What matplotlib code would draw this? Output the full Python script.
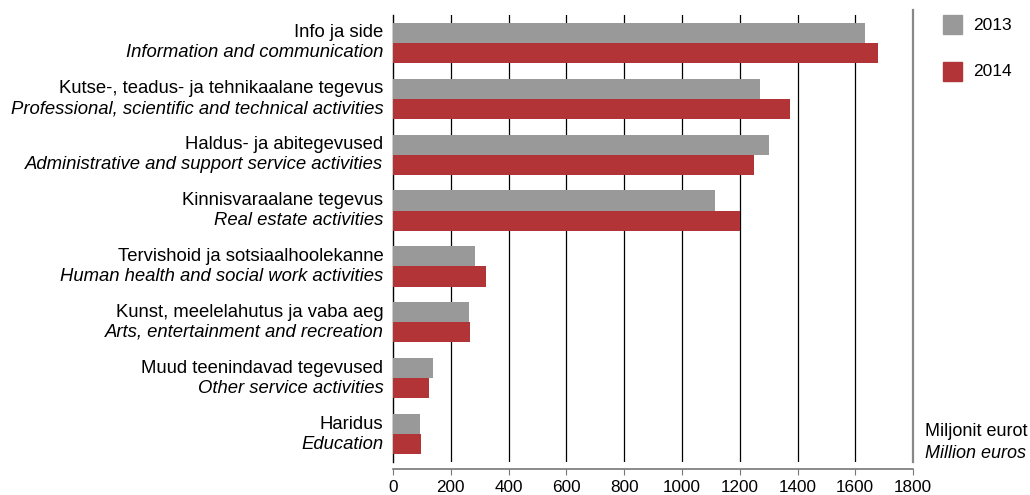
import numpy as np
import matplotlib.pyplot as plt
from matplotlib.patches import Rectangle

plt.rcParams['font.family'] = ['Liberation Sans', 'DejaVu Sans']

labels_et = ['Info ja side', 'Kutse-, teadus- ja tehnikaalane tegevus',
             'Haldus- ja abitegevused', 'Kinnisvaraalane tegevus',
             'Tervishoid ja sotsiaalhoolekanne', 'Kunst, meelelahutus ja vaba aeg',
             'Muud teenindavad tegevused', 'Haridus']
labels_en = ['Information and communication',
             'Professional, scientific and technical activities',
             'Administrative and support service activities',
             'Real estate activities',
             'Human health and social work activities',
             'Arts, entertainment and recreation',
             'Other service activities', 'Education']
v2013 = [1635, 1271, 1302, 1116, 283, 262, 138, 93]
v2014 = [1677, 1374, 1250, 1200, 321, 266, 124, 97]
years = ['2013', '2014']
colors = ['#999999', '#B33436']

fig = plt.figure(figsize=(10.3, 4.95), dpi=100)
ax = fig.add_axes([0.3816, 1 - 462 / 495, 0.5049, 447 / 495])

n = len(labels_et)
y = np.arange(n)
h = 0.36
ax.barh(y - h / 2, v2013, height=h, color=colors[0], zorder=3)
ax.barh(y + h / 2, v2014, height=h, color=colors[1], zorder=3)

ax.set_xlim(0, 1800)
ax.set_ylim(n - 0.5, -0.5)
ax.set_xticks(np.arange(0, 1801, 200))
ax.tick_params(axis='x', labelsize=12.3, length=4, color='#777777', pad=4)
ax.set_yticks([])
for xv in range(200, 1800, 200):
    ax.axvline(xv, color='black', lw=0.9, zorder=1)

for s in ['top', 'right']:
    ax.spines[s].set_visible(False)
ax.spines['left'].set_color('black')
ax.spines['left'].set_linewidth(1.0)
ax.spines['bottom'].set_color('#777777')
ax.spines['bottom'].set_linewidth(1.2)
ax.spines['bottom'].set_position(('outward', 5))

# right gray separator line
fig.add_artist(plt.Line2D([913 / 1030, 913 / 1030], [1 - 10 / 495, 1 - 462 / 495],
                          color='#888888', lw=1.6, transform=fig.transFigure))

# category labels
for i in range(n):
    ax.annotate(labels_et[i], xy=(0, y[i] - h / 2), xytext=(-7, 0),
                textcoords='offset points', ha='right', va='center', fontsize=13.3)
    ax.annotate(labels_en[i], xy=(0, y[i] + h / 2), xytext=(-7, 0),
                textcoords='offset points', ha='right', va='center', fontsize=13.3,
                style='italic')

# legend
for k, yr in enumerate(years):
    top = 15 + k * 47
    fig.add_artist(Rectangle((943 / 1030, 1 - (top + 19) / 495), 19 / 1030, 19 / 495,
                             color=colors[k], transform=fig.transFigure))
    fig.text(973 / 1030, 1 - (top + 10) / 495, yr, fontsize=12.5, va='center')

fig.text(925 / 1030, 1 - 431 / 495, 'Miljonit eurot', fontsize=13, va='center')
fig.text(925 / 1030, 1 - 453 / 495, 'Million euros', fontsize=13, va='center',
         style='italic')

fig.savefig('out.png', dpi=100)
